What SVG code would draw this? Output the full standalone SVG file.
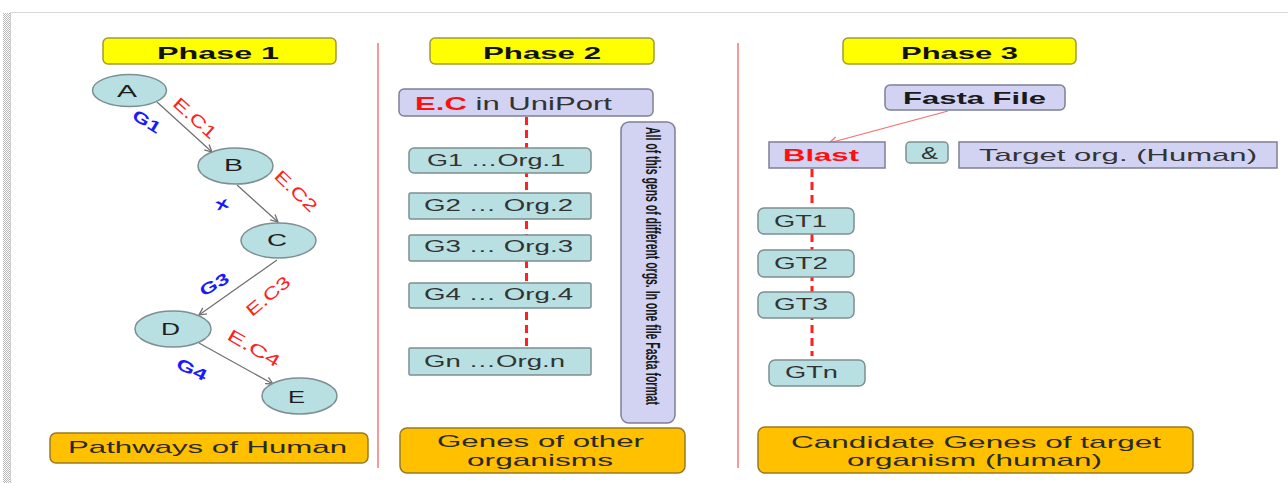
<svg xmlns="http://www.w3.org/2000/svg" width="1288" height="483" viewBox="0 0 1288 483">
  <defs>
    <style>
      text { font-family: "Liberation Sans", Arial, sans-serif; fill: #262626; }
      .phase { fill: #ffff00; stroke: #a39a3a; stroke-width: 1.5; }
      .phase-t { font-size: 17px; font-weight: bold; fill: #111; }
      .summary { fill: #ffc000; stroke: #9a7a20; stroke-width: 1.5; }
      .summary-t { font-size: 17px; fill: #2a2a2a; }
      .teal { fill: #b8e0e2; stroke: #7d8f90; stroke-width: 1.5; }
      .lav { fill: #d2d2f2; stroke: #7f7f98; stroke-width: 1.5; }
      .node-t { font-size: 16px; fill: #1e1e1e; }
      .box-t { font-size: 17px; fill: #333; }
      .ec { font-size: 17px; fill: #ff2020; }
      .gene { font-size: 16px; font-weight: bold; fill: #1a1aff; }
      .red-b { font-weight: bold; fill: #ff1010; }
      .dark-b { font-weight: bold; fill: #1a1a1a; }
      .plain { fill: #333; }
      .sep { stroke: #f49a9a; stroke-width: 2; }
      .edge { stroke: #6e6e6e; stroke-width: 1.2; fill: none; marker-end: url(#chev); }
      .dash { stroke: #ff2020; stroke-width: 3; stroke-dasharray: 8 5; fill: none; }
    </style>
    <marker id="chev" viewBox="0 0 10 10" refX="9" refY="5" markerWidth="9" markerHeight="9" markerUnits="userSpaceOnUse" orient="auto">
      <path d="M1,1 L9,5 L1,9" fill="none" stroke="#6e6e6e" stroke-width="1.4"/>
    </marker>
    <marker id="chev-red" viewBox="0 0 10 10" refX="9" refY="5" markerWidth="10" markerHeight="10" markerUnits="userSpaceOnUse" orient="auto">
      <path d="M1,1 L9,5 L1,9" fill="none" stroke="#f07070" stroke-width="1.2"/>
    </marker>
    <pattern id="dots" width="2" height="2" patternUnits="userSpaceOnUse">
      <rect width="1" height="1" fill="#b8b8b8"/>
      <rect x="1" y="1" width="1" height="1" fill="#b8b8b8"/>
    </pattern>
  </defs>

  <!-- page frame -->
  <rect width="1288" height="483" fill="#ffffff"/>
  <line x1="10" y1="12.5" x2="1288" y2="12.5" stroke="#d8d8d8" stroke-width="1"/>
  <rect x="3" y="13" width="7" height="470" fill="url(#dots)"/>
  <line x1="10.5" y1="13" x2="10.5" y2="483" stroke="#d0d0d0" stroke-width="1"/>

  <!-- column separators -->
  <g id="separators">
    <line class="sep" x1="378" y1="43" x2="378" y2="468"/>
    <line class="sep" x1="738" y1="43" x2="738" y2="468"/>
  </g>

  <!-- phase headers -->
  <g id="phase1">
    <rect class="phase" x="103" y="38" width="233" height="26" rx="5"/>
    <text class="phase-t" x="157" y="59" textLength="122" lengthAdjust="spacingAndGlyphs">Phase  1</text>
  </g>
  <g id="phase2">
    <rect class="phase" x="430" y="38" width="224" height="26" rx="5"/>
    <text class="phase-t" x="483" y="58.5" textLength="118" lengthAdjust="spacingAndGlyphs">Phase 2</text>
  </g>
  <g id="phase3">
    <rect class="phase" x="843" y="38" width="233" height="26" rx="5"/>
    <text class="phase-t" x="901" y="58.5" textLength="117" lengthAdjust="spacingAndGlyphs">Phase 3</text>
  </g>

  <!-- connectors -->
  <g id="connectors">
    <line class="edge" x1="157" y1="102" x2="212" y2="152"/>
    <line class="edge" x1="237" y1="185" x2="278" y2="222"/>
    <line class="edge" x1="277" y1="260" x2="199" y2="315"/>
    <line class="edge" x1="199" y1="343" x2="273" y2="384"/>
    <path class="dash" d="M526.5,117 V348"/>
    <path class="dash" d="M812,169 V356"/>
    <line x1="948" y1="111" x2="829" y2="143" stroke="#f07070" stroke-width="1.1" marker-end="url(#chev-red)"/>
  </g>

  <!-- pathway nodes -->
  <g id="node-A">
    <ellipse class="teal" cx="129.5" cy="90.5" rx="37" ry="16"/>
    <text class="node-t" x="117" y="97" textLength="20" lengthAdjust="spacingAndGlyphs">A</text>
  </g>
  <g id="node-B">
    <ellipse class="teal" cx="235.5" cy="166" rx="37.5" ry="18"/>
    <text class="node-t" x="224" y="171" textLength="19" lengthAdjust="spacingAndGlyphs">B</text>
  </g>
  <g id="node-C">
    <ellipse class="teal" cx="278.5" cy="240.5" rx="37.5" ry="17.5"/>
    <text class="node-t" x="267" y="246" textLength="20" lengthAdjust="spacingAndGlyphs">C</text>
  </g>
  <g id="node-D">
    <ellipse class="teal" cx="173" cy="329" rx="38" ry="18"/>
    <text class="node-t" x="161" y="335" textLength="19" lengthAdjust="spacingAndGlyphs">D</text>
  </g>
  <g id="node-E">
    <ellipse class="teal" cx="299.5" cy="396" rx="37.5" ry="18"/>
    <text class="node-t" x="288" y="403" textLength="17" lengthAdjust="spacingAndGlyphs">E</text>
  </g>

  <!-- edge labels -->
  <g id="edge-labels">
    <text class="ec" transform="translate(195,118) rotate(42)" x="0" y="6" text-anchor="middle" textLength="52" lengthAdjust="spacingAndGlyphs">E.C1</text>
    <text class="gene" transform="translate(147,121) rotate(32)" x="0" y="6" text-anchor="middle" textLength="30" lengthAdjust="spacingAndGlyphs">G1</text>
    <text class="ec" transform="translate(296,191) rotate(44)" x="0" y="6" text-anchor="middle" textLength="52" lengthAdjust="spacingAndGlyphs">E.C2</text>
    <text class="gene" transform="translate(222,204) rotate(-15)" x="0" y="5" text-anchor="middle" textLength="13" lengthAdjust="spacingAndGlyphs">x</text>
    <text class="gene" transform="translate(214,284) rotate(-30)" x="0" y="6" text-anchor="middle" textLength="31" lengthAdjust="spacingAndGlyphs">G3</text>
    <text class="ec" transform="translate(268,296) rotate(-40)" x="0" y="6" text-anchor="middle" textLength="52" lengthAdjust="spacingAndGlyphs">E.C3</text>
    <text class="ec" transform="translate(254,348) rotate(30)" x="0" y="6" text-anchor="middle" textLength="58" lengthAdjust="spacingAndGlyphs">E.C4</text>
    <text class="gene" transform="translate(192,369) rotate(26)" x="0" y="6" text-anchor="middle" textLength="32" lengthAdjust="spacingAndGlyphs">G4</text>
  </g>

  <g id="summary1">
    <rect class="summary" x="50" y="433" width="318" height="30" rx="6"/>
    <text class="summary-t" x="68" y="452.5" textLength="279" lengthAdjust="spacingAndGlyphs">Pathways of Human</text>
  </g>

  <!-- phase 2 -->
  <g id="uniport">
    <rect class="lav" x="399" y="89" width="254" height="27" rx="5"/>
    <text x="415" y="109.5" font-size="19" textLength="197" lengthAdjust="spacingAndGlyphs"><tspan class="red-b">E.C</tspan><tspan class="plain"> in UniPort</tspan></text>
  </g>
  <g id="gene-org1">
    <rect class="teal" x="409" y="148" width="182" height="25" rx="5"/>
    <text class="box-t" x="427" y="166" textLength="138" lengthAdjust="spacingAndGlyphs">G1 …Org.1</text>
  </g>
  <g id="gene-org2">
    <rect class="teal" x="409" y="193" width="182" height="26" rx="2"/>
    <text class="box-t" x="424" y="210.5" textLength="149" lengthAdjust="spacingAndGlyphs">G2 … Org.2</text>
  </g>
  <g id="gene-org3">
    <rect class="teal" x="409" y="235" width="182" height="26" rx="2"/>
    <text class="box-t" x="424" y="252" textLength="149" lengthAdjust="spacingAndGlyphs">G3 … Org.3</text>
  </g>
  <g id="gene-org4">
    <rect class="teal" x="409" y="283" width="182" height="25" rx="2"/>
    <text class="box-t" x="424" y="299.5" textLength="149" lengthAdjust="spacingAndGlyphs">G4 … Org.4</text>
  </g>
  <g id="gene-orgn">
    <rect class="teal" x="409" y="348" width="182" height="27" rx="1"/>
    <text class="box-t" x="424" y="366.5" textLength="141" lengthAdjust="spacingAndGlyphs">Gn …Org.n</text>
  </g>
  <g id="fasta-note">
    <rect class="lav" x="621" y="122" width="54" height="301" rx="8"/>
    <text class="dark-b" transform="translate(646,266) scale(1.55,1) rotate(90)" x="0" y="0" text-anchor="middle" font-family="'DejaVu Sans Condensed', 'Liberation Sans Narrow', sans-serif" font-size="13" textLength="278" lengthAdjust="spacingAndGlyphs">All of this gens of different orgs. In one file Fasta format</text>
  </g>
  <g id="summary2">
    <rect class="summary" x="400" y="428" width="285" height="45" rx="7"/>
    <text class="summary-t" x="437" y="447" textLength="207" lengthAdjust="spacingAndGlyphs">Genes of other</text>
    <text class="summary-t" x="467" y="465.5" textLength="146" lengthAdjust="spacingAndGlyphs">organisms</text>
  </g>

  <!-- phase 3 -->
  <g id="fasta-file">
    <rect class="lav" x="885" y="85" width="180" height="25" rx="5"/>
    <text class="dark-b" x="903" y="104" font-size="17" textLength="143" lengthAdjust="spacingAndGlyphs">Fasta File</text>
  </g>
  <g id="blast">
    <rect class="lav" x="769" y="142" width="116" height="26"/>
    <text class="red-b" x="783" y="160.5" font-size="17" textLength="76" lengthAdjust="spacingAndGlyphs">Blast</text>
  </g>
  <g id="and">
    <rect class="teal" x="906" y="142" width="42" height="21" rx="4"/>
    <text class="plain" x="921" y="159" font-size="16" textLength="17" lengthAdjust="spacingAndGlyphs">&amp;</text>
  </g>
  <g id="target-org">
    <rect class="lav" x="959" y="142" width="318" height="26"/>
    <text class="plain" x="979" y="160.5" font-size="17" textLength="278" lengthAdjust="spacingAndGlyphs">Target org. (Human)</text>
  </g>
  <g id="gt1">
    <rect class="teal" x="758" y="208" width="96" height="26" rx="6"/>
    <text class="box-t" x="774" y="227" textLength="53" lengthAdjust="spacingAndGlyphs">GT1</text>
  </g>
  <g id="gt2">
    <rect class="teal" x="758" y="250" width="96" height="27" rx="6"/>
    <text class="box-t" x="774" y="268.5" textLength="54" lengthAdjust="spacingAndGlyphs">GT2</text>
  </g>
  <g id="gt3">
    <rect class="teal" x="758" y="292" width="96" height="26" rx="6"/>
    <text class="box-t" x="774" y="310" textLength="54" lengthAdjust="spacingAndGlyphs">GT3</text>
  </g>
  <g id="gtn">
    <rect class="teal" x="769" y="360" width="96" height="26" rx="6"/>
    <text class="box-t" x="785" y="378" textLength="53" lengthAdjust="spacingAndGlyphs">GTn</text>
  </g>
  <g id="summary3">
    <rect class="summary" x="758" y="427" width="435" height="46" rx="7"/>
    <text class="summary-t" x="791" y="447.5" textLength="370" lengthAdjust="spacingAndGlyphs">Candidate Genes of target</text>
    <text class="summary-t" x="847" y="466" textLength="255" lengthAdjust="spacingAndGlyphs">organism (human)</text>
  </g>
</svg>
